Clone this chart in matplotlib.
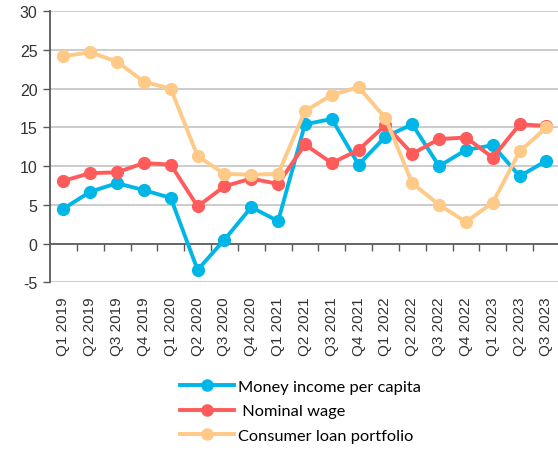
import matplotlib
matplotlib.use("Agg")
import matplotlib.pyplot as plt
from matplotlib.lines import Line2D

quarters = ["Q1 2019", "Q2 2019", "Q3 2019", "Q4 2019", "Q1 2020", "Q2 2020",
            "Q3 2020", "Q4 2020", "Q1 2021", "Q2 2021", "Q3 2021", "Q4 2021",
            "Q1 2022", "Q2 2022", "Q3 2022", "Q4 2022", "Q1 2023", "Q2 2023",
            "Q3 2023"]
money_income = [4.5, 6.7, 7.8, 6.9, 5.9, -3.4, 0.5, 4.7, 2.9, 15.4, 16.1, 10.2,
                13.8, 15.4, 10.0, 12.1, 12.7, 8.7, 10.7]
nominal_wage = [8.1, 9.1, 9.2, 10.4, 10.2, 4.8, 7.4, 8.4, 7.7, 12.8, 10.4, 12.1,
                15.3, 11.6, 13.5, 13.7, 11.1, 15.4, 15.2]
consumer_loans = [24.2, 24.7, 23.5, 20.9, 20.0, 11.3, 9.0, 8.9, 9.0, 17.1, 19.2,
                  20.2, 16.2, 7.8, 5.0, 2.8, 5.3, 11.9, 15.0]
series_names = ["Money income per capita", " Nominal wage", "Consumer loan portfolio"]
y_ticks = [-5, 0, 5, 10, 15, 20, 25, 30]

colors = ["#00B6E6", "#FF5B5B", "#FFC987"]
series = [money_income, nominal_wage, consumer_loans]

W, H = 558, 452
fig = plt.figure(figsize=(W / 100, H / 100), dpi=100)
ax = fig.add_axes([50 / W, 1 - 283.3 / H, (W - 50) / W, (283.3 - 12.3) / H])

x = list(range(len(quarters)))
handles = []
for vals, c, name in zip(series, colors, series_names):
    ax.plot(x, vals, color=c, lw=2.8, marker="o", ms=8.5, zorder=3, label=name)
    handles.append(Line2D([0], [0], color=c, lw=2.8, marker="o", ms=8))

ax.set_xlim(-0.5, 18.43)
ax.set_ylim(-5, 30)
ax.set_yticks(y_ticks)
ax.set_yticklabels([str(v) for v in y_ticks], fontsize=11.5, family="Liberation Sans",
                   color="#333333")
ax.tick_params(axis="y", length=5, width=1, color="#595959", pad=4)

for v in y_ticks:
    if v != 0:
        ax.axhline(v, color="#C8C8C8", lw=1.3, zorder=1)

ax.set_xticks(x)
ax.set_xticklabels(quarters, rotation=90, fontsize=11, family="Liberation Sans",
                   color="#333333")
ax.tick_params(axis="x", length=0, pad=10)

for s in ["top", "right", "bottom"]:
    ax.spines[s].set_visible(False)
ax.spines["left"].set_color("#595959")
ax.spines["left"].set_linewidth(1.3)

# zero axis with boundary ticks
sec = ax.secondary_xaxis(5 / 35)
sec.set_xticks([i + 0.5 for i in range(len(quarters) - 1)])
sec.set_xticklabels([])
sec.tick_params(axis="x", direction="out", length=5, width=1, color="#595959")
sec.spines["bottom"].set_color("#595959")
sec.spines["bottom"].set_linewidth(1.3)
sec.xaxis.set_ticks_position("bottom")

fig.legend(handles, series_names, loc="center left", bbox_to_anchor=(165 / W, 1 - 412 / H),
           frameon=False, handlelength=3.3, labelspacing=0.62,
           handletextpad=0.25, prop={"family": "Lato", "size": 11.8})

fig.savefig("out.png", dpi=100)
